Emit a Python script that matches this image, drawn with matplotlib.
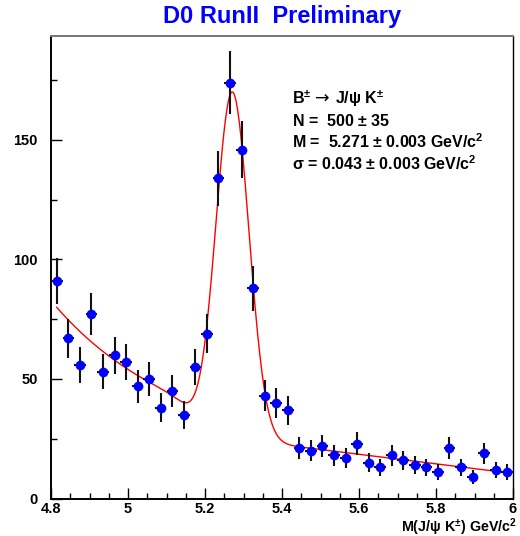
import numpy as np
import matplotlib
matplotlib.use("Agg")
import matplotlib.pyplot as plt
from matplotlib.ticker import MultipleLocator, FixedLocator
from math import erfc

plt.rcParams['font.family'] = ['Liberation Sans', 'DejaVu Sans']
plt.rcParams['font.weight'] = 'bold'
plt.rcParams['mathtext.fontset'] = 'custom'
plt.rcParams['mathtext.rm'] = 'Liberation Sans:bold'
plt.rcParams['mathtext.it'] = 'Liberation Sans:bold'
plt.rcParams['mathtext.bf'] = 'Liberation Sans:bold'
plt.rcParams['mathtext.sf'] = 'Liberation Sans:bold'

# ---- data (bin centres, counts) ----
bin_lo = 4.8
bin_width = 0.03
counts = [91, 67, 56, 77, 53, 60, 57, 47, 50, 38,
          45, 35, 55, 69, 134, 174, 146, 88, 43, 40,
          37, 21, 20, 22, 18, 17, 23, 15, 13, 18,
          16, 14, 13, 11, 21, 13, 9, 19, 12, 11]
x_ticks = [4.8, 5.0, 5.2, 5.4, 5.6, 5.8, 6.0]
x_tick_labels = ["4.8", "5", "5.2", "5.4", "5.6", "5.8", "6"]
y_ticks = [0, 50, 100, 150]
y_tick_labels = ["0", "50", "100", "150"]

# ---- fit parameters (signal + background) ----
sig_mass = 5.271
sig_sigma = 0.043
sig_peak = 145.0
bkg_lin_ref = 5.45
bkg_lin_val = 21.5
bkg_lin_slope = -20.0
bkg_exp_amp = 48.3
bkg_exp_slope = 3.6
bkg_edge = 5.17
bkg_edge_width = 0.05

title = "D0 RunII  Preliminary"
decay_parts = [r"B$^{\pm}$", "→", r"J/ψ K$^{\pm}$"]
info_lines = [r"N =  500 $\pm$ 35",
              r"M =  5.271 $\pm$ 0.003 GeV/c$^{2}$",
              r"σ = 0.043 $\pm$ 0.003 GeV/c$^{2}$"]
xlabel = r"M(J/ψ K$^{\pm}$) GeV/c$^{2}$"

n_bins = len(counts)
centers = np.array([bin_lo + bin_width * (i + 0.5) for i in range(n_bins)])
y = np.array(counts, dtype=float)
yerr = np.sqrt(y)


def fit_model(x):
    sig = sig_peak * np.exp(-0.5 * ((x - sig_mass) / sig_sigma) ** 2)
    lin = bkg_lin_val + bkg_lin_slope * (x - bkg_lin_ref)
    edge = np.array([0.5 * erfc((xx - bkg_edge) / bkg_edge_width) for xx in x])
    ex = bkg_exp_amp * np.exp(-bkg_exp_slope * (x - bin_lo)) * edge
    return sig + lin + ex


W, H = 520, 536
fig = plt.figure(figsize=(W / 100, H / 100), dpi=100)
L, R, T, B = 51, 513, 35.5, 498.5
ax = fig.add_axes([L / W, 1 - B / H, (R - L) / W, (B - T) / H])

xf = np.linspace(centers[0], centers[-1], 600)
ax.plot(xf, fit_model(xf), color='red', lw=1.0, zorder=2)

ax.errorbar(centers, y, yerr=yerr, xerr=bin_width / 2, fmt='o', color='blue',
            markersize=7, ecolor='#111111', elinewidth=1.5, capsize=0,
            markeredgewidth=0, zorder=3)

ax.set_xlim(4.8, 6.0)
ax.set_ylim(0, 193.7)

ax.xaxis.set_major_locator(FixedLocator(x_ticks))
ax.set_xticklabels(x_tick_labels)
ax.xaxis.set_minor_locator(MultipleLocator(0.05))
ax.yaxis.set_major_locator(FixedLocator(y_ticks))
ax.set_yticklabels(y_tick_labels)
ax.yaxis.set_minor_locator(MultipleLocator(25))

ax.tick_params(axis='both', which='both', direction='in', top=False, right=False,
               width=1.0, labelsize=10.5, color='black')
ax.tick_params(axis='both', which='major', length=8)
ax.tick_params(axis='both', which='minor', length=4.5)
ax.tick_params(axis='x', which='major', pad=2.5)
ax.tick_params(axis='y', which='major', pad=9.5)
for lab in ax.get_xticklabels() + ax.get_yticklabels():
    lab.set_fontweight('bold')

for s in ['left', 'bottom']:
    ax.spines[s].set_linewidth(1.4)
    ax.spines[s].set_color('black')
ax.spines['right'].set_linewidth(1.0)
ax.spines['right'].set_color('black')
ax.spines['top'].set_linewidth(1.4)
ax.spines['top'].set_color('#777777')

fig.text(282 / W, 1 - 16 / H, title, ha='center', va='center', color='#0000ff',
         fontsize=17, fontweight='bold')

# decay line: B± → J/ψ K±
fig.text(292 / W, 1 - 104 / H, decay_parts[0], ha='left', va='baseline',
         fontsize=11.5, fontweight='bold', color='black')
fig.text(315.5 / W, 1 - 104 / H, decay_parts[1], ha='left', va='baseline',
         fontsize=12.5, fontweight='normal', family=['DejaVu Sans'], color='black')
fig.text(335 / W, 1 - 104 / H, decay_parts[2], ha='left', va='baseline',
         fontsize=11.5, fontweight='bold', color='black')

ys = [126.5, 148.5, 170]
for line, yy in zip(info_lines, ys):
    fig.text(292 / W, 1 - yy / H, line, ha='left', va='baseline', fontsize=11.5,
             fontweight='bold', color='black')

fig.text(517 / W, 1 - 531.5 / H, xlabel, ha='right', va='baseline', fontsize=10.3,
         fontweight='bold', color='black')

fig.savefig("out.png", dpi=100)
